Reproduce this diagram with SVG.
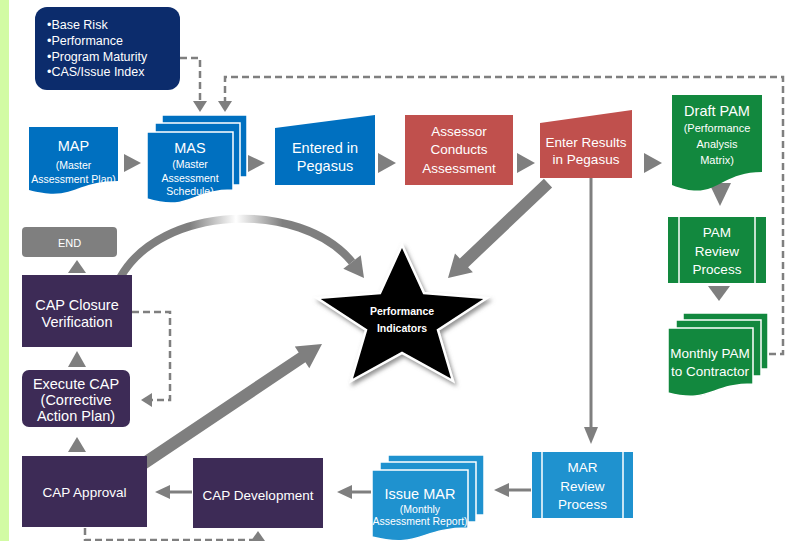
<svg xmlns="http://www.w3.org/2000/svg" width="792" height="541" viewBox="0 0 792 541">
<defs>
<style>
text{font-family:"Liberation Sans",Arial,sans-serif;fill:#fff;text-anchor:middle}
.t14{font-size:14.5px}
.t13{font-size:13.5px}
.t10{font-size:10.5px}
.t11{font-size:11px}
.dash{fill:none;stroke:#7f7f7f;stroke-width:2.5;stroke-dasharray:7 4}
.ln{fill:none;stroke:#7f7f7f;stroke-width:3}
.ah{fill:#7f7f7f}
.blue{fill:#0070c0}
.lblue{fill:#1f92cf}
.red{fill:#c0504d}
.green{fill:#12883e}
.purple{fill:#3d2b56}
.pg{stroke:#fff;stroke-width:1.5}
.bar{stroke:#fff;stroke-width:1.5}
</style>
<linearGradient id="fade" gradientUnits="userSpaceOnUse" x1="120" y1="0" x2="352" y2="0">
<stop offset="0" stop-color="#7f7f7f" stop-opacity="1"/>
<stop offset="0.3" stop-color="#7f7f7f" stop-opacity="1"/>
<stop offset="0.5" stop-color="#7f7f7f" stop-opacity="0"/>
<stop offset="0.7" stop-color="#7f7f7f" stop-opacity="1"/>
<stop offset="1" stop-color="#7f7f7f" stop-opacity="1"/>
</linearGradient>
<filter id="sh" x="-20%" y="-20%" width="140%" height="140%">
<feDropShadow dx="2" dy="3" stdDeviation="2" flood-color="#777" flood-opacity="0.8"/>
</filter>
</defs>
<rect x="0" y="0" width="792" height="541" fill="#fff"/>
<rect x="0" y="0" width="9" height="541" fill="#d2fba4"/>

<g id="connectors">
<path class="dash" d="M180,58 H200 V103"/>
<polygon class="ah" points="193,101 207,101 200,112"/>
<path class="dash" d="M769,354 H783 V77 H225 V103"/>
<polygon class="ah" points="218,101 232,101 225,112"/>
<path class="dash" d="M132,312 H170 V400 H152"/>
<polygon class="ah" points="152,393 152,407 141,400"/>
<path class="dash" d="M85,528 V540 H258"/>
<polygon class="ah" points="251,541 265,541 258,531"/>
<polygon class="ah" points="124,154 141,163 124,172"/>
<polygon class="ah" points="248,155 265,163 248,172"/>
<polygon class="ah" points="378,153 396,163 378,173"/>
<polygon class="ah" points="517,153 535,163 517,173"/>
<polygon class="ah" points="644,153 662,163 644,173"/>
<polygon class="ah" points="709,183 731,183 720,206"/>
<polygon class="ah" points="708,286 730,286 719,301"/>
<polygon class="ah" points="68,273 86,273 77,260"/>
<polygon class="ah" points="68,367 86,367 77,351"/>
<polygon class="ah" points="68,452 86,452 77,437"/>
<path class="ln" d="M591,178 V428"/>
<polygon class="ah" points="584,427 598,427 591,444"/>
<path class="ln" d="M531,490 H507"/>
<polygon class="ah" points="509,483 509,497 494,490"/>
<path class="ln" d="M371,492 H350"/>
<polygon class="ah" points="352,485 352,499 337,492"/>
<path class="ln" d="M192,492 H168"/>
<polygon class="ah" points="170,485 170,499 155,492"/>
<polygon class="ah" points="543.9,178.7 459.8,258.5 455,253.4 448,278 472.9,272.3 468.1,267.2 552.1,187.4"/>
<polygon class="ah" points="143.3,471 305.4,362.3 309.3,368.2 322,344 294.8,346.6 298.7,352.4 136.7,461"/>
<path d="M120,278 C160,205 300,199 352,262" fill="none" stroke="url(#fade)" stroke-width="8"/>
<polygon class="ah" points="343.3,268.7 364,278 360.7,255.3"/>
</g>

<g id="criteria">
<rect x="35" y="7" width="145" height="83" rx="12" fill="#0c2c6c"/>
<text x="47" y="29" style="font-size:12.5px;text-anchor:start">•Base Risk</text>
<text x="47" y="45" style="font-size:12.5px;text-anchor:start">•Performance</text>
<text x="47" y="61" style="font-size:12.5px;text-anchor:start">•Program Maturity</text>
<text x="47" y="76" style="font-size:12.5px;text-anchor:start">•CAS/Issue Index</text>
</g>

<g id="map">
<path class="blue" d="M29,127 H118 V181 C74,181 74,202 29,190 Z"/>
<text class="t14" x="73.5" y="151">MAP</text>
<text class="t10" x="73.5" y="169">(Master</text>
<text class="t10" x="73.5" y="183">Assessment Plan)</text>
</g>

<g id="mas">
<rect class="blue pg" x="162" y="115" width="85" height="62"/>
<rect class="blue pg" x="155" y="123" width="85" height="62"/>
<path class="blue pg" d="M147,132 H233 V190 C190,190 190,212 147,199 Z"/>
<text class="t14" x="190" y="153">MAS</text>
<text class="t10" x="190" y="168">(Master</text>
<text class="t10" x="190" y="182">Assessment</text>
<text class="t10" x="190" y="195">Schedule)</text>
</g>

<g id="entered">
<polygon class="blue" points="275,128 375,115 375,185 275,185"/>
<text class="t14" x="325" y="153">Entered in</text>
<text class="t14" x="325" y="171">Pegasus</text>
</g>

<g id="assessor">
<rect class="red" x="405" y="115" width="108" height="70"/>
<text class="t13" x="459" y="136">Assessor</text>
<text class="t13" x="459" y="154">Conducts</text>
<text class="t13" x="459" y="173">Assessment</text>
</g>

<g id="enter-results">
<polygon class="red" points="540,123 632,110 632,178 540,178"/>
<text class="t13" x="586" y="147">Enter Results</text>
<text class="t13" x="586" y="164">in Pegasus</text>
</g>

<g id="draft-pam">
<path class="green" d="M672,95 H762 V172 C717,172 717,203 672,185 Z"/>
<text x="717" y="116" style="font-size:14.5px">Draft PAM</text>
<text class="t11" x="717" y="132">(Performance</text>
<text class="t11" x="717" y="148">Analysis</text>
<text class="t11" x="717" y="164">Matrix)</text>
</g>

<g id="pam-review">
<rect class="green" x="668" y="217" width="98" height="66"/>
<line class="bar" x1="679" y1="217" x2="679" y2="283"/>
<line class="bar" x1="755" y1="217" x2="755" y2="283"/>
<text class="t13" x="717" y="237">PAM</text>
<text class="t13" x="717" y="256">Review</text>
<text class="t13" x="717" y="274">Process</text>
</g>

<g id="monthly-pam">
<rect class="green pg" x="683" y="313" width="85" height="56"/>
<rect class="green pg" x="676" y="320" width="85" height="56"/>
<path class="green pg" d="M668,328 H753 V384 C710,384 710,404 668,393 Z"/>
<text class="t13" x="710" y="358">Monthly PAM</text>
<text class="t13" x="710" y="376">to Contractor</text>
</g>

<g id="end">
<rect x="22" y="227" width="95" height="30" rx="4" fill="#7f7f7f"/>
<text class="t11" x="69.5" y="247">END</text>
</g>

<g id="cap-closure">
<rect class="purple" x="22" y="275" width="110" height="72"/>
<text x="77" y="310" style="font-size:14.5px">CAP Closure</text>
<text x="77" y="327" style="font-size:14.5px">Verification</text>
</g>

<g id="execute-cap">
<rect class="purple" x="22" y="370" width="108" height="57" rx="7"/>
<text x="76" y="389" style="font-size:14.5px">Execute CAP</text>
<text x="76" y="405" style="font-size:14.5px">(Corrective</text>
<text x="76" y="421" style="font-size:14.5px">Action Plan)</text>
</g>

<g id="cap-approval">
<rect class="purple" x="22" y="456" width="125" height="71"/>
<text class="t13" x="84.5" y="497">CAP Approval</text>
</g>

<g id="cap-development">
<rect class="purple" x="193" y="458" width="130" height="70"/>
<text class="t13" x="258" y="500">CAP Development</text>
</g>

<g id="issue-mar">
<rect class="lblue pg" x="388" y="455" width="96" height="60"/>
<rect class="lblue pg" x="380" y="462" width="96" height="60"/>
<path class="lblue pg" d="M372,470 H468 V528 C420,528 420,549 372,537 Z"/>
<text class="t14" x="420" y="499">Issue MAR</text>
<text class="t10" x="420" y="513">(Monthly</text>
<text class="t10" x="420" y="525">Assessment Report)</text>
</g>

<g id="mar-review">
<rect class="lblue" x="532" y="452" width="101" height="66"/>
<line class="bar" x1="542" y1="452" x2="542" y2="518"/>
<line class="bar" x1="623" y1="452" x2="623" y2="518"/>
<text class="t13" x="582.5" y="472">MAR</text>
<text class="t13" x="582.5" y="491">Review</text>
<text class="t13" x="582.5" y="509">Process</text>
</g>

<g id="performance-indicators">
<polygon points="402,245 424,293 487,298 438,330 453,381 402,353 351,381 366,330 317,298 380,293" fill="#000" stroke="#fff" stroke-width="2.5" filter="url(#sh)"/>
<text x="402" y="315" style="font-size:10.5px;font-weight:bold">Performance</text>
<text x="402" y="332" style="font-size:10.5px;font-weight:bold">Indicators</text>
</g>
</svg>
